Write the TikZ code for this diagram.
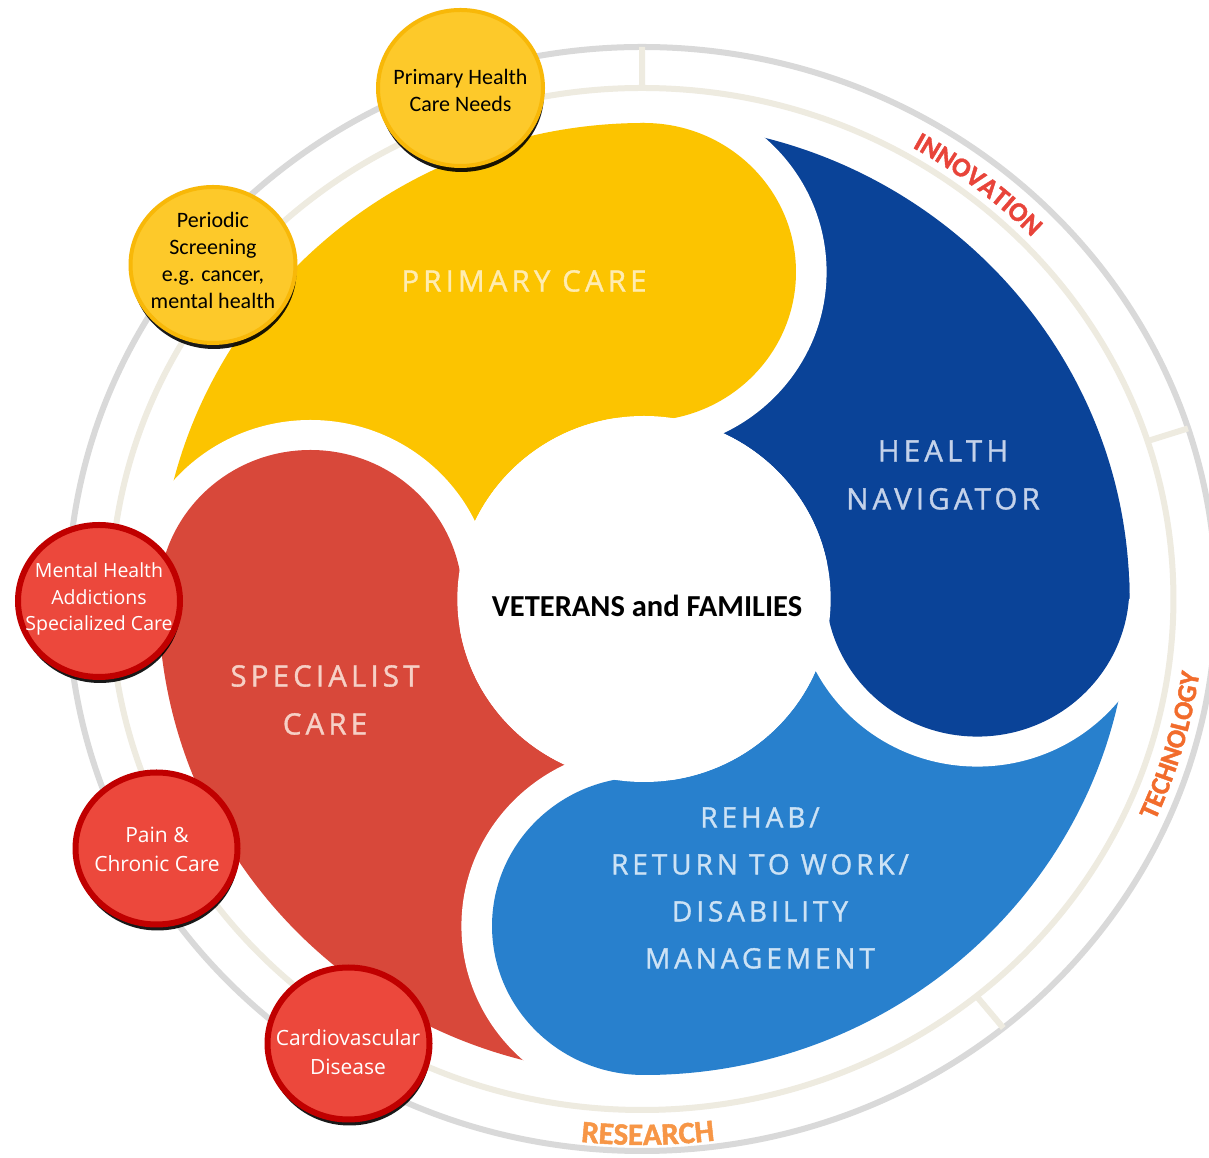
\documentclass[tikz,border=0pt]{standalone}
\usepackage{fontspec}
\setmainfont{Carlito}
\newfontfamily\petalfont[LetterSpace=14,FakeBold=1.2]{Open Sans}
\newfontfamily\ballfont{Open Sans}
\newfontfamily\ringfont[FakeBold=1.5]{Carlito Bold}
\usetikzlibrary{shapes.geometric,shadows,decorations.text}

\definecolor{hnav}{RGB}{10,67,152}
\definecolor{pcare}{RGB}{252,196,0}
\definecolor{scare}{RGB}{216,72,58}
\definecolor{rehab}{RGB}{40,128,205}
\definecolor{hnavtxt}{RGB}{196,210,234}
\definecolor{pcaretxt}{RGB}{255,236,176}
\definecolor{scaretxt}{RGB}{246,208,198}
\definecolor{rehabtxt}{RGB}{204,226,245}
\definecolor{sunfill}{RGB}{253,201,42}
\definecolor{sunedge}{RGB}{248,184,8}
\definecolor{redfill}{RGB}{236,72,60}
\definecolor{rededge}{RGB}{192,0,0}
\definecolor{greyring}{RGB}{217,217,217}
\definecolor{beigering}{RGB}{238,235,224}
\definecolor{innov}{RGB}{232,68,58}
\definecolor{techno}{RGB}{242,108,44}
\definecolor{resrch}{RGB}{247,150,70}

\tikzset{
ring/.style={line width=6pt},
ball/.style={ellipse, inner sep=0pt, drop shadow={shadow xshift=1pt, shadow yshift=-6pt, opacity=.9, fill=black}},
sunball/.style={ball, draw=sunedge, fill=sunfill, line width=4pt, minimum width=165pt, minimum height=156pt},
redball/.style={ball, draw=rededge, fill=redfill, line width=6pt, minimum width=162pt, minimum height=152pt},
suntext/.style={align=center, font=\fontsize{22}{27}\selectfont},
redtext/.style={align=center, text=white, font=\ballfont\fontsize{21}{29}\selectfont},
petaltext/.style={align=center, font=\petalfont\fontsize{29.5}{48}\selectfont},
}

\begin{document}
\begin{tikzpicture}[x=1pt,y=1pt]
\fill[white] (0,0) rectangle (1209,1158);
\useasboundingbox (0,0) rectangle (1209,1158);

\begin{scope}[shift={(642,559)},xscale=1.04]
\draw[ring,greyring] (0,0) circle (552);
\draw[ring,beigering] (0,0) circle (511);
\draw[ring,beigering] (90:511) -- (90:552) (18:511) -- (18:552) (-51:511) -- (-51:552);
\end{scope}

\begin{scope}[shift={(644,559)},xscale=1.02]
\fill[hnav] (0:183) -- (0:476) arc[start angle=0,end angle=90,radius=476] -- (90:183) arc[start angle=90,end angle=0,radius=183] -- cycle;
\fill[pcare] (90:183) -- (90:476) arc[start angle=90,end angle=180,radius=476] -- (180:183) arc[start angle=180,end angle=90,radius=183] -- cycle;
\fill[scare] (180:183) -- (180:476) arc[start angle=180,end angle=270,radius=476] -- (270:183) arc[start angle=270,end angle=180,radius=183] -- cycle;
\fill[rehab] (270:183) -- (270:476) arc[start angle=270,end angle=360,radius=476] -- (360:183) arc[start angle=360,end angle=270,radius=183] -- cycle;
\begin{scope}
\clip (0,0) -- (0:700) -- (45:990) -- (90:700) -- cycle;
\fill[white] (90:327) circle (179);
\end{scope}
\begin{scope}
\clip (0,0) -- (90:700) -- (135:990) -- (180:700) -- cycle;
\fill[white] (180:327) circle (179);
\end{scope}
\begin{scope}
\clip (0,0) -- (180:700) -- (225:990) -- (270:700) -- cycle;
\fill[white] (270:327) circle (179);
\end{scope}
\begin{scope}
\clip (0,0) -- (270:700) -- (315:990) -- (360:700) -- cycle;
\fill[white] (2:327) circle (179);
\end{scope}
\fill[hnav] (2:327) circle (149);
\fill[pcare] (90:327) circle (149);
\fill[scare] (180:327) circle (149);
\fill[rehab] (270:327) circle (149);
\fill[white] (0,0) circle (183);
\end{scope}

\node[petaltext,text=pcaretxt] (pclabel) at (524,877) {PRIMARY CARE};
\node[petaltext,text=hnavtxt] (hnlabel) at (943,683) {HEALTH\\NAVIGATOR};
\node[petaltext,text=scaretxt] (sclabel) at (325,458) {SPECIALIST\\CARE};
\node[petaltext,text=rehabtxt,font=\petalfont\fontsize{28}{47}\selectfont] (rhlabel) at (760,270) {REHAB/\\RETURN TO WORK/\\DISABILITY\\MANAGEMENT};
\node[font=\fontsize{30.5}{34}\selectfont\bfseries] (vets) at (647,552) {VETERANS and FAMILIES};

\begin{scope}[shift={(642,559)}]
\path[decorate,decoration={text along path,text align=center,text={|\ringfont\fontsize{27}{30}\selectfont\color{innov}|INNOVATION}}] (64:541.8 and 521) arc[start angle=64,end angle=40,x radius=541.8,y radius=521];
\path[decorate,decoration={text along path,text align=center,text={|\ringfont\fontsize{27}{30}\selectfont\color{techno}|TECHNOLOGY}}] (-31:562.6 and 541) arc[start angle=-31,end angle=-1,x radius=562.6,y radius=541];
\path[decorate,decoration={text along path,text align=center,text={|\ringfont\fontsize{31}{34}\selectfont\color{resrch}|RESEARCH}}] (255.6:567.8 and 546) arc[start angle=255.6,end angle=285.6,x radius=567.8,y radius=546];
\end{scope}

\node[sunball] (phc) at (460.5,1070) {};
\node[suntext] (phc-t) at (460.5,1067.5) {Primary Health\\Care Needs};
\node[sunball] (screen) at (213,893) {};
\node[suntext] (screen-t) at (213,898) {Periodic\\Screening\\e.g. cancer,\\mental health};
\node[redball] (mental) at (99,557) {};
\node[redtext,font=\ballfont\fontsize{19.5}{26.5}\selectfont] (mental-t) at (99,559) {Mental Health\\Addictions\\Specialized Care};
\node[redball] (pain) at (156.5,309.5) {};
\node[redtext] (pain-t) at (157,308.5) {Pain \&\\Chronic Care};
\node[redball] (cardio) at (348.5,114.5) {};
\node[redtext] (cardio-t) at (348,105.5) {Cardiovascular\\Disease};
\end{tikzpicture}
\end{document}
